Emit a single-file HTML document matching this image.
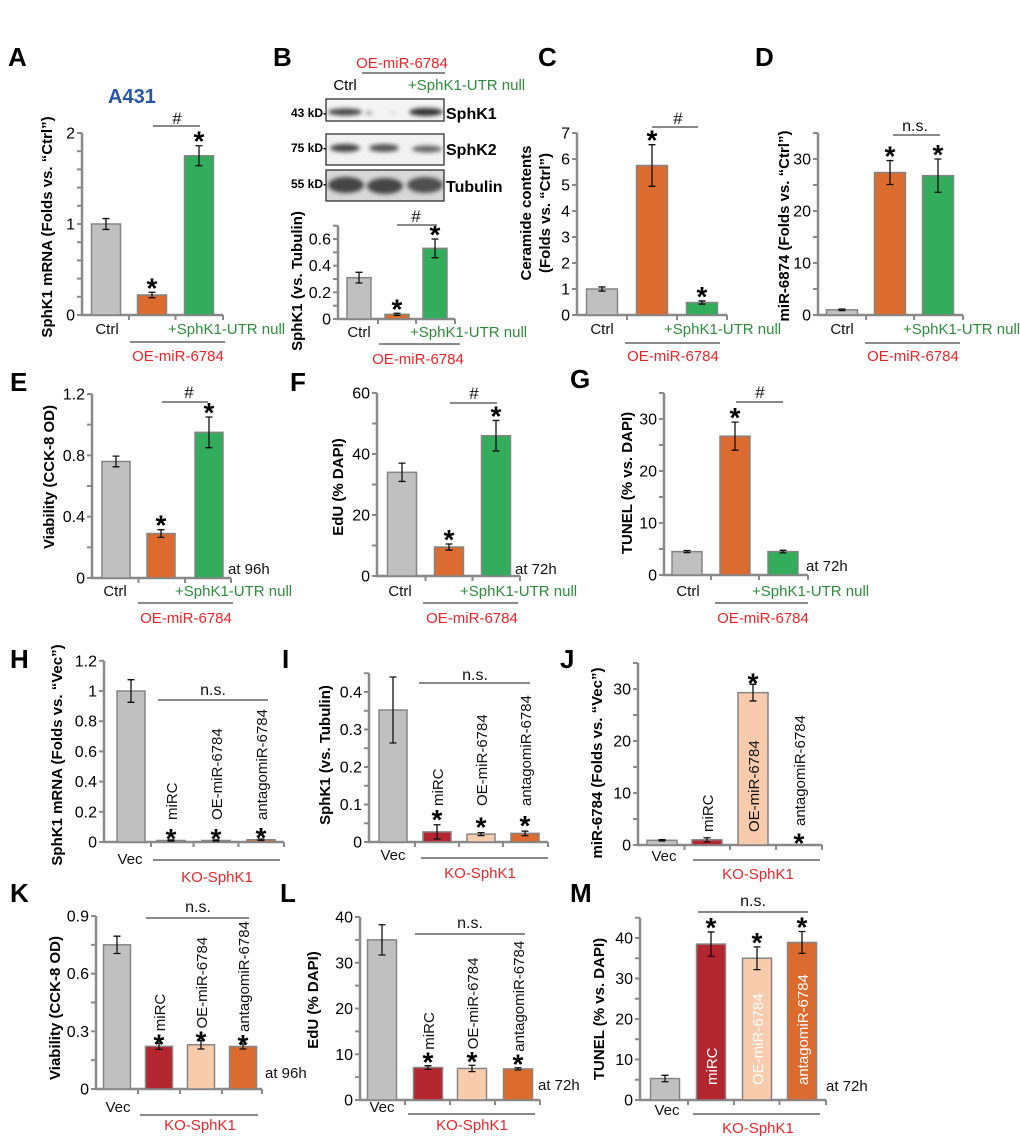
<!DOCTYPE html>
<html><head><meta charset="utf-8"><style>
html,body{margin:0;padding:0;background:#fff;}
svg{display:block;font-family:"Liberation Sans",Arial,sans-serif;}
</style></head><body>
<svg id="fig" width="1020" height="1136" viewBox="0 0 1020 1136" xmlns="http://www.w3.org/2000/svg">
<defs><filter id="blur" x="-20%" y="-50%" width="140%" height="200%"><feGaussianBlur stdDeviation="2.2"/></filter></defs>
<g id="static" font-size="15">
<g font-weight="bold" font-size="26">
<text x="8" y="66">A</text>
<text x="273" y="66">B</text>
<text x="538" y="66">C</text>
<text x="755" y="66">D</text>
<text x="10" y="391">E</text>
<text x="290" y="391">F</text>
<text x="570" y="388">G</text>
<text x="10" y="668">H</text>
<text x="282" y="668">I</text>
<text x="560" y="668">J</text>
<text x="10" y="902">K</text>
<text x="280" y="902">L</text>
<text x="570" y="902">M</text>
</g>
<text x="108" y="103" font-size="20" font-weight="bold" fill="#2456a6">A431</text>
<g>
<text x="402" y="68" text-anchor="middle" fill="#e8262a">OE-miR-6784</text>
<line x1="362" y1="73" x2="445" y2="73" stroke="#888" stroke-width="2"/>
<text x="345" y="90" text-anchor="middle">Ctrl</text>
<text x="408" y="90" fill="#2e8b3c">+SphK1-UTR null</text>
<g font-size="12" font-weight="bold" text-anchor="end">
<text x="327" y="117">43 kD-</text><text x="327" y="152">75 kD-</text><text x="327" y="188">55 kD-</text></g>
<g font-size="16" font-weight="bold">
<text x="446" y="119">SphK1</text><text x="446" y="155">SphK2</text><text x="446" y="192">Tubulin</text></g>
<rect x="326" y="99" width="118" height="22" fill="#f4f4f4" stroke="#222" stroke-width="1.2"/>
<rect x="326" y="134" width="118" height="31" fill="#f2f2f2" stroke="#222" stroke-width="1.2"/>
<rect x="326" y="170" width="118" height="31" fill="#d8d8d8" stroke="#222" stroke-width="1.2"/>
<g filter="url(#blur)">
<ellipse cx="345" cy="112" rx="17" ry="3.5" fill="#444"/>
<ellipse cx="369" cy="113" rx="4" ry="2" fill="#aaa"/>
<ellipse cx="393" cy="113" rx="3" ry="1.5" fill="#ccc"/>
<ellipse cx="426" cy="112" rx="17" ry="4" fill="#333"/>
<ellipse cx="345" cy="148" rx="15" ry="4" fill="#444"/>
<ellipse cx="384" cy="148" rx="15" ry="4" fill="#555"/>
<ellipse cx="427" cy="149" rx="15" ry="3.5" fill="#666"/>
<ellipse cx="346" cy="185" rx="18" ry="8" fill="#444"/>
<ellipse cx="385" cy="186" rx="18" ry="8" fill="#444"/>
<ellipse cx="425" cy="185" rx="18" ry="8" fill="#505050"/>
</g>
</g>
</g>
<g id="charts"></g>
</svg>
<script>
// ---- data ----
const aCats=["Ctrl","OE-miR-6784","+SphK1-UTR null"];
const aVals=[1.0,0.22,1.75];
const aErrs=[0.06,0.03,0.11];
const bVals=[0.31,0.035,0.53];
const bErrs=[0.04,0.008,0.07];
const cVals=[1.0,5.75,0.48];
const cErrs=[0.08,0.8,0.06];
const dVals=[1.0,27.4,26.8];
const dErrs=[0.15,2.3,3.2];
const eVals=[0.76,0.29,0.95];
const eErrs=[0.035,0.025,0.1];
const fVals=[34,9.5,46];
const fErrs=[3,1,5];
const gVals=[4.5,26.7,4.5];
const gErrs=[0.2,2.7,0.25];
const kCats=["Vec","miRC","OE-miR-6784","antagomiR-6784"];
const hVals=[1.0,0.01,0.01,0.015];
const hErrs=[0.075,0.004,0.004,0.005];
const iVals=[0.352,0.027,0.021,0.023];
const iErrs=[0.088,0.019,0.004,0.006];
const jVals=[0.9,1.0,29.3,0.05];
const jErrs=[0.12,0.4,1.6,0];
const kVals=[0.75,0.222,0.23,0.221];
const kErrs=[0.045,0.016,0.022,0.013];
const lVals=[35,7.1,6.9,6.8];
const lErrs=[3.3,0.4,0.7,0.25];
const mVals=[5.3,38.5,35.0,38.9];
const mErrs=[0.8,3.0,2.8,2.7];
const aTicks=[0,1,2];
const bTicks=[0,0.2,0.4,0.6];
const cTicks=[0,1,2,3,4,5,6,7];
const dTicks=[0,10,20,30];
const eTicks=[0,0.4,0.8,1.2];
const fTicks=[0,20,40,60];
const gTicks=[0,10,20,30];
const hTicks=[0,0.2,0.4,0.6,0.8,1,1.2];
const iTicks=[0,0.1,0.2,0.3,0.4];
const jTicks=[0,10,20,30];
const kTicks=[0,0.3,0.6,0.9];
const lTicks=[0,10,20,30,40];
const mTicks=[0,10,20,30,40];
const aStars=[false,true,true];
const kStars=[false,true,true,true];
// ---- drawing ----
const NS="http://www.w3.org/2000/svg";
const root=document.getElementById('charts');
function mk(tag,attrs,parent,txt){const e=document.createElementNS(NS,tag);for(const k in attrs)e.setAttribute(k,attrs[k]);if(txt!==undefined)e.textContent=txt;parent.appendChild(e);return e;}
const GRAY='#c0c0c0',OR='#db6b2f',GR='#33ad5b',RD='#b3262f',PE='#f8cbac',AX='#8a8a8a';
const C3=[GRAY,OR,GR],C4=[GRAY,RD,PE,OR];
function fmt(v){return String(Math.round(v*100)/100);}
function panel(p){
  const g=mk('g',{},root);
  
  
  const ppu=(p.y0-p.tp)/p.tv;
  const ys=v=>p.y0-v*ppu;
  const top=ys(p.ymax);
  const ax=mk('line',{x1:p.ax,y1:top,x2:p.ax,y2:p.y0+1,stroke:AX,'stroke-width':2.5},g);
  
  
  for(let v=0;v<=p.ymax+1e-9;v+=p.minor){mk('line',{x1:p.ax-5,y1:ys(v),x2:p.ax,y2:ys(v),stroke:AX,'stroke-width':2},g);}
  p.ticks.forEach(t=>{const tl=mk('text',{x:p.ax-7,y:ys(t)+5.5,'text-anchor':'end','font-size':16},g,fmt(t));
    
    });
  const xa=mk('line',{x1:p.ax-1,y1:p.y0,x2:p.end,y2:p.y0,stroke:AX,'stroke-width':2.5},g);
  
  
  const n=p.centers.length;
  for(let i=0;i<n;i++){const xx=i<n-1?(p.centers[i]+p.centers[i+1])/2:p.end;mk('line',{x1:xx,y1:p.y0,x2:xx,y2:p.y0+5,stroke:AX,'stroke-width':2},g);}
  const yt=mk('text',{transform:`translate(${p.tx},${p.ty}) rotate(-90)`,'text-anchor':'middle','font-size':15,'font-weight':'bold'},g);
  
  
  p.title.forEach((t,i)=>{mk('tspan',{x:0,dy:i?19:0},yt,t);});
  p.vals.forEach((v,i)=>{
    const c=p.centers[i],w=p.w;
    const r=mk('rect',{x:c-w/2,y:ys(v),width:w,height:Math.max(0.5,p.y0-ys(v)),fill:p.colors[i],stroke:'#858585','stroke-width':1.5},g);
    
    
    const e=p.errs[i];
    if(e>0){mk('path',{d:`M${c},${ys(v+e)}V${ys(v-e)}M${c-3.5},${ys(v+e)}H${c+3.5}M${c-3.5},${ys(v-e)}H${c+3.5}`,stroke:'#111','stroke-width':1.3,fill:'none'},g);}
    if(p.stars[i]){const st=mk('text',{x:c,y:ys(v+e)+(p.starDy!==undefined?p.starDy:5),'text-anchor':'middle','font-size':28,'font-weight':'bold'},g,'*');
      
      }
    if(p.rot&&p.rot[i]){const L=p.rot[i];
      const y=L.fixed!==undefined?L.fixed:ys(v+e)+L.off;
      const rt=mk('text',{transform:`translate(${c+(L.dx||6)},${y}) rotate(-90)`,'font-size':15,fill:L.fill||'#111'},g,p.cats[i]);
      
      }
  });
  (p.texts||[]).forEach(t=>{const te=mk('text',{x:t[0],y:t[1],'text-anchor':t[3]||'middle',fill:t[4]||'#111','font-size':t[5]||15},g,t[2]);
    
    });
  (p.lines||[]).forEach(l=>{mk('line',{x1:l[0],y1:l[2],x2:l[1],y2:l[2],stroke:AX,'stroke-width':2},g);});
}
const RED='#e8262a',GRN='#2e8b3c';
function oeGroup(ctrlX,utrX,lx1,lx2,ly,oeX,base){return {texts:[[ctrlX,base,'Ctrl'],[utrX,base,'+SphK1-UTR null','start',GRN],[oeX,base+27,'OE-miR-6784','middle',RED]],lines:[[lx1,lx2,ly]]};}
function add(p,extra){p.texts=(p.texts||[]).concat(extra.texts);p.lines=(p.lines||[]).concat(extra.lines);return p;}

panel(add({name:'chart-a-sphk1-mrna',key:'a',ax:82,y0:315,tv:2,tp:133,ymax:2,minor:0.2,ticks:aTicks,centers:[106,152,199],w:29,end:223,vals:aVals,errs:aErrs,colors:C3,stars:aStars,cats:aCats,
 tx:52,ty:227,title:['SphK1 mRNA (Folds vs. “Ctrl”)'],texts:[[177,124,'#','middle','#111',17]],lines:[[153,200,126]]},oeGroup(107,168,130,225,342,178,334)));
panel(add({name:'chart-b-sphk1-protein',key:'b',ax:338,y0:319,tv:0.6,tp:239,ymax:0.7,minor:0.1,ticks:bTicks,centers:[359,397,435],w:24,end:455,vals:bVals,errs:bErrs,colors:C3,stars:aStars,cats:aCats,
 tx:302,ty:281,title:['SphK1 (vs. Tubulin)'],texts:[[416,222,'#','middle','#111',17]],lines:[[397,437,225]]},oeGroup(359,410,379,460,344,418,337)));
panel(add({name:'chart-c-ceramide',key:'c',ax:577,y0:315,tv:7,tp:133,ymax:7,minor:1,ticks:cTicks,centers:[602,652,702],w:31,end:727,vals:cVals,errs:cErrs,colors:C3,stars:aStars,cats:aCats,
 tx:531,ty:213,title:['Ceramide contents','(Folds vs. “Ctrl”)'],texts:[[678,124,'#','middle','#111',17]],lines:[[652,698,127]]},oeGroup(602,664,625,720,343,673,334)));
panel(add({name:'chart-d-mir6784',key:'d',ax:818,y0:315,tv:30,tp:159,ymax:35,minor:5,ticks:dTicks,centers:[842,890,938],w:31,end:963,vals:dVals,errs:dErrs,colors:C3,stars:aStars,cats:aCats,
 tx:789,ty:226,title:['miR-6874 (Folds vs. “Ctrl”)'],texts:[[915,131,'n.s.','middle','#111',16]],lines:[[893,940,135]]},oeGroup(842,903,865,960,343,913,334)));
panel(add({name:'chart-e-viability',key:'e',ax:92,y0:578,tv:1.2,tp:394,ymax:1.2,minor:0.2,ticks:eTicks,centers:[116,161,209],w:28,end:231,vals:eVals,errs:eErrs,colors:C3,stars:aStars,cats:aCats,
 tx:54,ty:477,title:['Viability (CCK-8 OD)'],texts:[[189,398,'#','middle','#111',17],[228,574,'at 96h','start']],lines:[[162,208,402]]},oeGroup(115,175,138,233,603,186,596)));
panel(add({name:'chart-f-edu',key:'f',ax:377,y0:576,tv:60,tp:393,ymax:60,minor:10,ticks:fTicks,centers:[402,449,496],w:29,end:520,vals:fVals,errs:fErrs,colors:C3,stars:aStars,cats:aCats,
 tx:343,ty:487,title:['EdU (% DAPI)'],texts:[[474,399,'#','middle','#111',17],[515,574,'at 72h','start']],lines:[[450,497,403]]},oeGroup(400,460,423,518,603,472,596)));
panel(add({name:'chart-g-tunel',key:'g',ax:664,y0:575,tv:30,tp:419,ymax:35,minor:5,ticks:gTicks,centers:[687,735,783],w:30,end:808,vals:gVals,errs:gErrs,colors:C3,stars:[false,true,false],cats:aCats,
 tx:632,ty:483,title:['TUNEL (% vs. DAPI)'],texts:[[760,398,'#','middle','#111',17],[806,571,'at 72h','start']],lines:[[736,783,402]]},oeGroup(688,752,715,808,603,763,596)));
function koGroup(vx,lx1,lx2,ly,kx,base){return {texts:[[vx,base,'Vec'],[kx,base+18,'KO-SphK1','middle',RED]],lines:[[lx1,lx2,ly]]};}
const noStar=[false,true,true,true];
panel(add({name:'chart-h-sphk1-mrna-ko',key:'h',ax:104,y0:842,tv:1,tp:691,ymax:1.2,minor:0.2,ticks:hTicks,centers:[131,171,216,261],w:28,end:284,vals:hVals,errs:hErrs,colors:[GRAY,'#cfcfcf','#cfcfcf',OR],stars:noStar,cats:kCats,starDy:8,
 rot:[null,{fixed:820},{fixed:820},{fixed:820}],
 tx:62,ty:755,title:['SphK1 mRNA (Folds vs. “Vec”)'],texts:[[213,695,'n.s.','middle','#111',16]],lines:[[158,268,700]]},koGroup(130,153,280,860,217,864)));
panel(add({name:'chart-i-sphk1-protein-ko',key:'i',ax:369,y0:842,tv:0.4,tp:692,ymax:0.45,minor:0.05,ticks:iTicks,centers:[393,437,481,525],w:28,end:548,vals:iVals,errs:iErrs,colors:C4,stars:noStar,cats:kCats,starDy:4,
 rot:[null,{fixed:806},{fixed:806},{fixed:806}],
 tx:330,ty:755,title:['SphK1 (vs. Tubulin)'],texts:[[475,680,'n.s.','middle','#111',16]],lines:[[419,530,683]]},koGroup(393,421,548,858,480,860)));
panel(add({name:'chart-j-mir6784-ko',key:'j',ax:638,y0:845,tv:30,tp:689,ymax:35,minor:5,ticks:jTicks,centers:[662,707,753,799],w:30,end:822,vals:jVals,errs:jErrs,colors:C4,stars:[false,false,true,true],cats:kCats,starDy:8,
 rot:[null,{fixed:832},{fixed:832},{fixed:826}],
 tx:602,ty:763,title:['miR-6784 (Folds vs. “Vec”)'],texts:[],lines:[]},koGroup(664,693,820,860,758,861)));
panel(add({name:'chart-k-viability-ko',key:'k',ax:96,y0:1089,tv:0.9,tp:916,ymax:0.9,minor:0.15,ticks:kTicks,centers:[117,159,201,243],w:27,end:262,vals:kVals,errs:kErrs,colors:C4,stars:noStar,cats:kCats,starDy:10,
 rot:[null,{off:-12},{off:-12},{off:-12}],
 tx:60,ty:1008,title:['Viability (CCK-8 OD)'],texts:[[198,912,'n.s.','middle','#111',16],[265,1078,'at 96h','start']],lines:[[146,249,918]]},koGroup(118,140,258,1115,200,1112)));
panel(add({name:'chart-l-edu-ko',key:'l',ax:360,y0:1100,tv:40,tp:917,ymax:40,minor:5,ticks:lTicks,centers:[382,428,472,518],w:29,end:540,vals:lVals,errs:lErrs,colors:C4,stars:noStar,cats:kCats,starDy:6,
 rot:[null,{off:-16},{off:-16},{off:-16}],
 tx:318,ty:1000,title:['EdU (% DAPI)'],texts:[[470,928,'n.s.','middle','#111',16],[538,1090,'at 72h','start']],lines:[[415,525,934]]},koGroup(382,408,535,1114,472,1112)));
panel(add({name:'chart-m-tunel-ko',key:'m',ax:640,y0:1100,tv:40,tp:938,ymax:45,minor:5,ticks:mTicks,centers:[665,711,757,802],w:29,end:826,vals:mVals,errs:mErrs,colors:C4,stars:noStar,cats:kCats,
 rot:[null,{fixed:1085,fill:'#fff'},{fixed:1085,fill:'#fff'},{fixed:1085,fill:'#fff'}],
 tx:604,ty:1009,title:['TUNEL (% vs. DAPI)'],texts:[[753,906,'n.s.','middle','#111',16],[826,1091,'at 72h','start']],lines:[[698,808,912]]},koGroup(667,693,820,1114,758,1115)));
</script>
</body></html>
